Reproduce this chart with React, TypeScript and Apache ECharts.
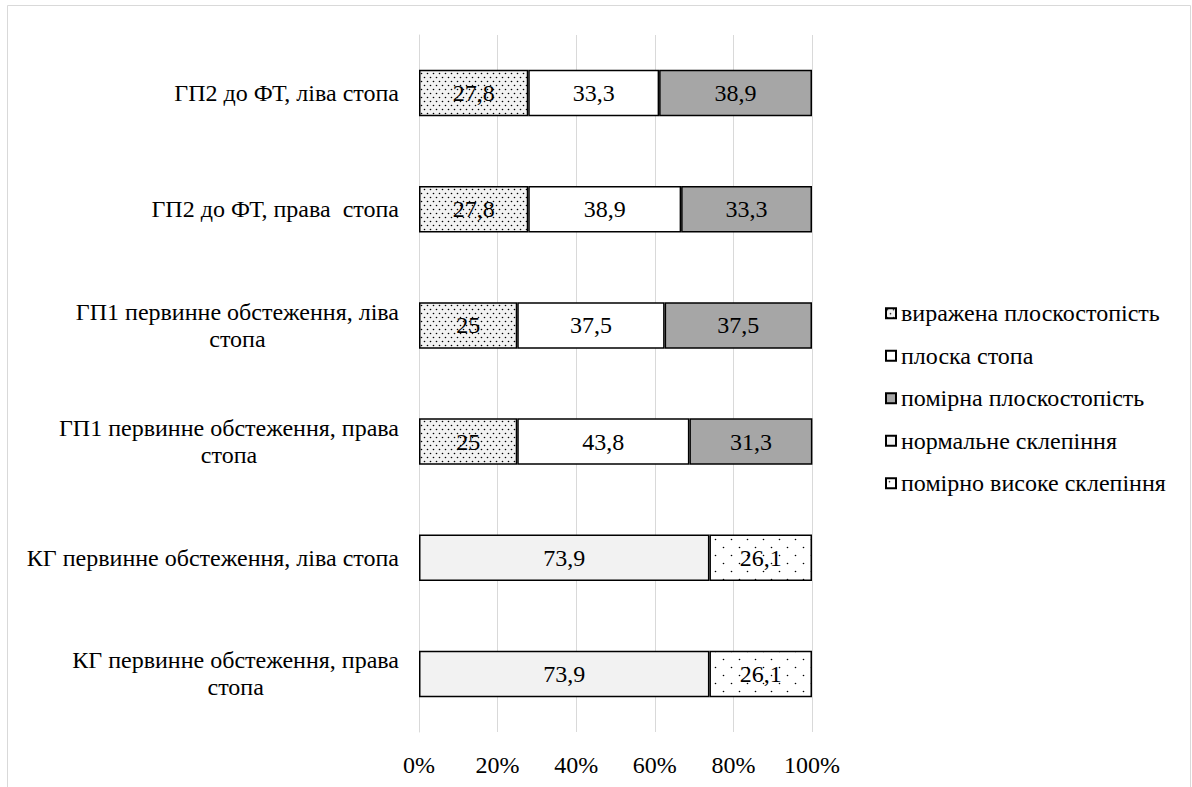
import React, { useEffect, useRef } from "react";
import * as echarts from "echarts";

// Categories, top to bottom
const categories = [
  "ГП2 до ФТ, ліва стопа",
  "ГП2 до ФТ, права  стопа",
  "ГП1 первинне обстеження, ліва\nстопа",
  "ГП1 первинне обстеження, права\nстопа",
  "КГ первинне обстеження, ліва стопа",
  "КГ первинне обстеження, права\nстопа",
];

const seriesNames = [
  "виражена плоскостопість",
  "плоска стопа",
  "помірна плоскостопість",
  "нормальне склепіння",
  "помірно високе склепіння",
];

// Percent shares per category ("-" = no segment)
const severeFlat = [27.8, 27.8, 25, 25, "-", "-"];
const flatFoot = [33.3, 38.9, 37.5, 43.8, "-", "-"];
const moderateFlat = [38.9, 33.3, 37.5, 31.3, "-", "-"];
const normalArch = ["-", "-", "-", "-", 73.9, 73.9];
const highArch = ["-", "-", "-", "-", 26.1, 26.1];

const xMin = 0;
const xMax = 100;
const xStep = 20;

const FONT = "'Liberation Serif', 'Times New Roman', serif";
const FS = 24;

function dotPattern(w: number, h: number, bg: string, dots: [number, number][], r: number) {
  const c = document.createElement("canvas");
  c.width = w;
  c.height = h;
  const ctx = c.getContext("2d")!;
  ctx.fillStyle = bg;
  ctx.fillRect(0, 0, w, h);
  ctx.fillStyle = "#000";
  dots.forEach(([x, y]) => {
    ctx.beginPath();
    ctx.arc(x, y, r, 0, Math.PI * 2);
    ctx.fill();
  });
  return {
    image: c.toDataURL(),
    imageWidth: w,
    imageHeight: h,
    repeat: "repeat",
  } as any;
}

const fmt = (v: number) => String(v).replace(".", ",");

export default function App() {
  const ref = useRef<HTMLDivElement>(null);

  useEffect(() => {
    if (!ref.current) return;
    const chart = echarts.init(ref.current, undefined, { renderer: "svg" });

    const densePattern = dotPattern(6, 8, "#f2f2f2", [[1.5, 1.5], [4.5, 5.5]], 0.8);
    const sparsePattern = dotPattern(16, 16, "#ffffff", [[3.5, 3.5], [11.5, 11.5]], 0.8);

    const fills: any[] = [densePattern, "#ffffff", "#a6a6a6", "#f2f2f2", sparsePattern];
    const values = [severeFlat, flatFoot, moderateFlat, normalArch, highArch];

    const series = seriesNames.map((name, i) => ({
      name,
      type: "bar",
      stack: "total",
      barWidth: "40%",
      data: values[i],
      itemStyle: {
        color: fills[i],
        borderColor: "#000",
        borderWidth: 1.5,
      },
      label: {
        show: true,
        position: "inside",
        color: "#000",
        fontFamily: FONT,
        fontSize: FS,
        formatter: (p: any) => fmt(p.value),
      },
    }));

    chart.setOption({
      animation: false,
      backgroundColor: "#ffffff",
      graphic: [
        {
          type: "rect",
          silent: true,
          z: -10,
          shape: { x: 7.5, y: 5.5, width: 1183, height: 800 },
          style: { fill: "none", stroke: "#d9d9d9", lineWidth: 1 },
        },
      ],
      grid: { left: 419, right: 380, top: 35, bottom: 55, containLabel: false },
      legend: {
        orient: "vertical",
        left: 880,
        top: 296,
        itemWidth: 10,
        itemHeight: 10,
        itemGap: 18,
        icon: "rect",
        data: seriesNames,
        textStyle: {
          color: "#000",
          fontFamily: FONT,
          fontSize: FS,
          lineHeight: 24.5,
          padding: [0, 0, 0, 0],
        },
      },
      xAxis: {
        type: "value",
        min: xMin,
        max: xMax,
        interval: xStep,
        axisLine: { show: false },
        axisTick: { show: false },
        splitLine: { lineStyle: { color: "#d9d9d9", width: 1 } },
        axisLabel: {
          color: "#000",
          fontFamily: FONT,
          fontSize: FS,
          margin: 21,
          formatter: "{value}%",
        },
      },
      yAxis: {
        type: "category",
        inverse: true,
        data: categories,
        axisLine: { show: true, lineStyle: { color: "#d9d9d9", width: 1 } },
        axisTick: { show: false },
        axisLabel: {
          margin: 20,
          formatter: (v: string) =>
            v
              .split("\n")
              .map((line) => `{c|${line}}`)
              .join("\n"),
          rich: {
            c: {
              align: "center",
              color: "#000",
              fontFamily: FONT,
              fontSize: FS,
              lineHeight: 27,
            },
          },
        },
      },
      series,
    });

    return () => chart.dispose();
  }, []);

  return (
    <div
      ref={ref}
      style={{ position: "fixed", left: 0, top: 0, width: 1192, height: 787, background: "#fff" }}
    />
  );
}
